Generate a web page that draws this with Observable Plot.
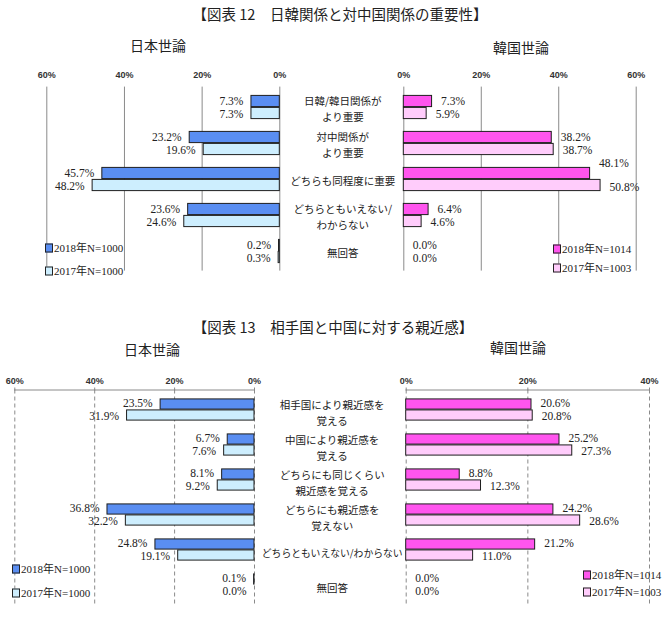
<!DOCTYPE html>
<html><head><meta charset="utf-8">
<script src="https://cdn.jsdelivr.net/npm/d3@7"></script>
<script src="https://cdn.jsdelivr.net/npm/@observablehq/plot@0.6"></script>
<style>
body{margin:0;background:#fff;width:670px;height:617px;position:relative;overflow:hidden;font-family:"Noto Sans CJK JP",sans-serif;color:#222}
.abs{position:absolute}
.abs svg{max-width:none;overflow:visible;background:transparent}
.t{position:absolute;transform:translate(-50%,-50%);white-space:nowrap;line-height:1}
.title{font-size:14.5px}
.sub{font-size:14px}
.leg{position:absolute;font-family:"Liberation Serif","Noto Sans CJK JP",serif;font-size:11px;white-space:nowrap;display:flex;align-items:center;transform:translateY(-50%);line-height:1}
.sw{width:6px;height:7px;border:1px solid #222;margin-right:1px;display:inline-block}
</style></head><body>
<script>
// ---- data ----
const fig12Title = "【図表 12　日韓関係と対中国関係の重要性】";
const fig13Title = "【図表 13　相手国と中国に対する親近感】";
const jpLabel = "日本世論", krLabel = "韓国世論";
const fig12Cats = ["日韓/韓日関係が\nより重要", "対中関係が\nより重要", "どちらも同程度に重要", "どちらともいえない/\nわからない", "無回答"];
const jp12_2018 = [7.3, 23.2, 45.7, 23.6, 0.2];
const jp12_2017 = [7.3, 19.6, 48.2, 24.6, 0.3];
const kr12_2018 = [7.3, 38.2, 48.1, 6.4, 0.0];
const kr12_2017 = [5.9, 38.7, 50.8, 4.6, 0.0];
const fig13Cats = ["相手国により親近感を\n覚える", "中国により親近感を\n覚える", "どちらにも同じくらい\n親近感を覚える", "どちらにも親近感を\n覚えない", "どちらともいえない/わからない", "無回答"];
const jp13_2018 = [23.5, 6.7, 8.1, 36.8, 24.8, 0.1];
const jp13_2017 = [31.9, 7.6, 9.2, 32.2, 19.1, 0.0];
const kr13_2018 = [20.6, 25.2, 8.8, 24.2, 21.2, 0.0];
const kr13_2017 = [20.8, 27.3, 12.3, 28.6, 11.0, 0.0];
const ticks12 = [0, 20, 40, 60];
const ticks13jp = [0, 20, 40, 60];
const ticks13kr = [0, 20, 40];
const legendJP = ["2018年N=1000", "2017年N=1000"];
const legendKR = ["2018年N=1014", "2017年N=1003"];

const COL = {jp18: "#5a8ef2", jp17: "#cdeefe", kr18: "#ff55ee", kr17: "#ffccfb"};
const SERIF = "Liberation Serif, Noto Sans CJK JP, serif";
const fmt = v => v.toFixed(1) + "%";

function place(el, left, top) {
  const d = document.createElement("div");
  d.className = "abs"; d.style.left = left + "px"; d.style.top = top + "px";
  d.appendChild(el); document.body.appendChild(d);
}
function text(cls, s, x, y) {
  const d = document.createElement("div");
  d.className = "t " + cls; d.textContent = s;
  d.style.left = x + "px"; d.style.top = y + "px";
  document.body.appendChild(d);
}
function legend(labels, c18, c17, x, y1, y2) {
  [[labels[0], c18, y1], [labels[1], c17, y2]].forEach(([s, c, y]) => {
    const d = document.createElement("div");
    d.className = "leg"; d.style.left = x + "px"; d.style.top = y + "px";
    const sw = document.createElement("span"); sw.className = "sw"; sw.style.background = c;
    d.appendChild(sw); d.appendChild(document.createTextNode(s));
    document.body.appendChild(d);
  });
}

function panel(o) {
  const n = o.cats.length;
  const half = (o.height - o.mT - o.mB) / n / 2;
  const rows18 = o.cats.map((c, i) => ({cat: c, v: o.v18[i], i}));
  const rows17 = o.cats.map((c, i) => ({cat: c, v: o.v17[i], i}));
  const jp = o.side === "jp";
  const lab = {x: "v", y: "cat", text: d => fmt(d.v), dx: jp ? -8 : 9, textAnchor: jp ? "end" : "start",
    fontSize: 11.5, fontFamily: SERIF, fill: "#222"};
  const marks = [
    Plot.gridX(o.ticks, {stroke: "#8a8a8a", strokeOpacity: 1, strokeWidth: 1, strokeDasharray: o.dashed ? "4,3" : null}),
  ];
  if (o.topLine) marks.push(Plot.frame({anchor: "top", stroke: "#8a8a8a"}));
  marks.push(
    Plot.axisX(o.ticks, {anchor: "top", label: null, tickSize: o.topLine ? 3 : 0, tickPadding: o.tickPad, stroke: "#8a8a8a",
      tickFormat: d => d + "%", fontSize: 9, fontWeight: "bold", fill: "#333", fontFamily: "Liberation Sans, sans-serif"}),
    Plot.barX(rows18, {x: "v", y: "cat", fill: o.c18, stroke: "#1e1e1e", strokeWidth: 1,
      insetTop: half - o.barH, insetBottom: half}),
    Plot.barX(rows17, {x: "v", y: "cat", fill: o.c17, stroke: "#1e1e1e", strokeWidth: 1,
      insetTop: half, insetBottom: half - o.barH}),
    Plot.text(rows18, {...lab, filter: d => !(o.lift && d.i === o.lift), dy: -6.5}),
    Plot.text(rows17, {...lab, filter: d => !(o.lift && d.i === o.lift), dy: 6.5})
  );
  if (o.lift) {
    marks.push(Plot.text(rows18, {...lab, filter: d => d.i === o.lift, dy: -16}));
    marks.push(Plot.text(rows17, {...lab, filter: d => d.i === o.lift, dy: 8}));
  }
  if (o.catDx) {
    marks.push(Plot.text(o.cats, {y: d => d, text: d => d, frameAnchor: "left", dx: o.catDx, textAnchor: "middle",
      lineHeight: o.catLH, fontSize: d => (d.length > 14 && !d.includes("\n")) ? 9.8 : 10.5,
      fontFamily: "Noto Sans CJK JP, sans-serif", fill: "#222", dy: o.catDy || 0}));
  }
  const svg = Plot.plot({
    width: o.width, height: o.height,
    marginLeft: o.mL, marginRight: o.mR, marginTop: o.mT, marginBottom: o.mB,
    style: {background: "transparent", overflow: "visible"},
    x: {domain: o.domain, reverse: jp, axis: null, label: null},
    y: {domain: o.cats, padding: 0, axis: null},
    marks
  });
  place(svg, o.left, o.top);
}

// ---- Figure 12 ----
text("title", fig12Title, 340, 14);
text("sub", jpLabel, 158, 45);
text("sub", krLabel, 521, 47);
panel({side: "jp", cats: fig12Cats, v18: jp12_2018, v17: jp12_2017, c18: COL.jp18, c17: COL.jp17,
  left: 0, top: 60, width: 300, height: 220, mL: 46.3, mR: 20.7, mT: 26.6, mB: 9.4,
  domain: [0, 60], ticks: ticks12, barH: 12, tickPad: 9});
panel({side: "kr", cats: fig12Cats, v18: kr12_2018, v17: kr12_2017, c18: COL.kr18, c17: COL.kr17,
  left: 280, top: 60, width: 390, height: 220, mL: 123.3, mR: 34.3, mT: 26.6, mB: 9.4,
  domain: [0, 60], ticks: ticks12, barH: 12, tickPad: 9, catDx: -61, catLH: 1.55, lift: 2});
legend(legendJP, COL.jp18, COL.jp17, 45, 248, 271);
legend(legendKR, COL.kr18, COL.kr17, 553, 249, 268);

// ---- Figure 13 ----
text("title", fig13Title, 333, 327);
text("sub", jpLabel, 152, 349);
text("sub", krLabel, 518, 347);
panel({side: "jp", cats: fig13Cats, v18: jp13_2018, v17: jp13_2017, c18: COL.jp18, c17: COL.jp17,
  left: 0, top: 360, width: 300, height: 250, mL: 14.3, mR: 46, mT: 29.5, mB: 5.5,
  domain: [0, 60], ticks: ticks13jp, barH: 11, tickPad: 3, dashed: true, topLine: true});
panel({side: "kr", cats: fig13Cats, v18: kr13_2018, v17: kr13_2017, c18: COL.kr18, c17: COL.kr17,
  left: 250, top: 360, width: 420, height: 250, mL: 155.7, mR: 21, mT: 29.5, mB: 5.5,
  domain: [0, 40], ticks: ticks13kr, barH: 11, tickPad: 3, dashed: true, topLine: true,
  catDx: -74, catLH: 1.55, catDy: 2});
legend(legendJP, COL.jp18, COL.jp17, 12, 569, 593);
legend(legendKR, COL.kr18, COL.kr17, 583, 575, 592);
</script>
</body></html>
